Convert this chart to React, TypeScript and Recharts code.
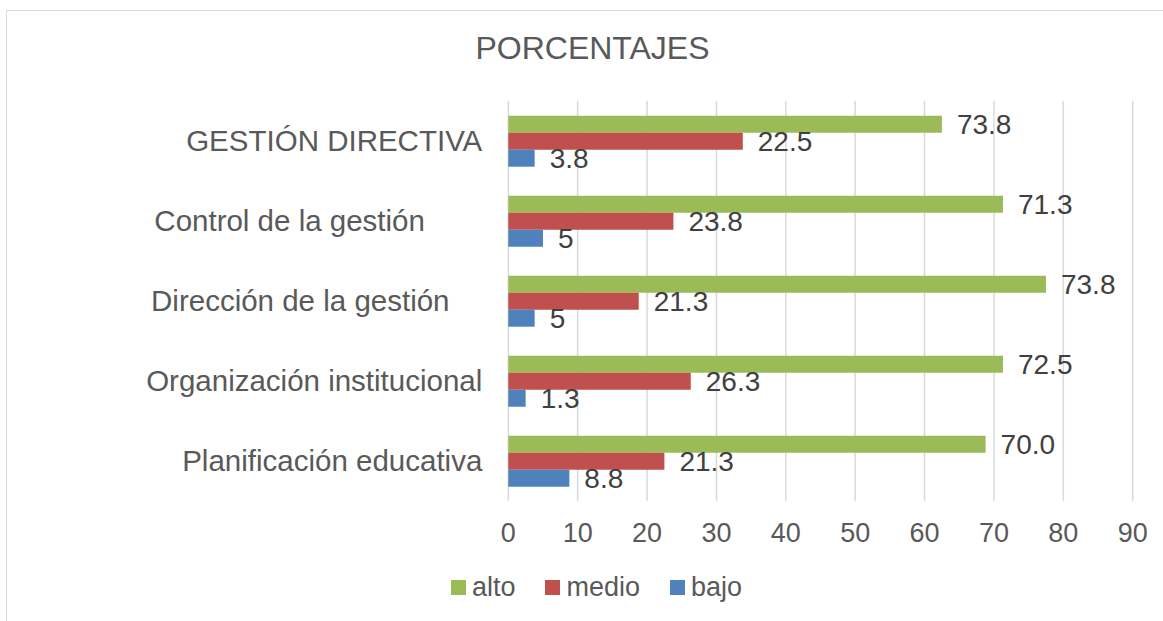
import { BarChart, Bar, XAxis, YAxis, CartesianGrid, Legend, LabelList } from 'recharts';

const categories = [
  'GESTIÓN DIRECTIVA',
  'Control de la gestión\u00A0\u00A0\u00A0\u00A0\u00A0\u00A0\u00A0',
  'Dirección de la gestión\u00A0\u00A0\u00A0\u00A0',
  'Organización institucional',
  'Planificación educativa',
];

const seriesNames = ['alto', 'medio', 'bajo'];

// bar lengths as drawn in the picture
const alto = [62.5, 71.3, 77.5, 71.3, 68.8];
const medio = [33.8, 23.8, 18.8, 26.3, 22.5];
const bajo = [3.8, 5, 3.8, 2.5, 8.8];

// data labels as printed next to the bars
const altoLabels = ['73.8', '71.3', '73.8', '72.5', '70.0'];
const medioLabels = ['22.5', '23.8', '21.3', '26.3', '21.3'];
const bajoLabels = ['3.8', '5', '5', '1.3', '8.8'];

const xTicks = [0, 10, 20, 30, 40, 50, 60, 70, 80, 90];

const data = categories.map((name, i) => ({
  name,
  alto: alto[i],
  medio: medio[i],
  bajo: bajo[i],
  altoLabel: altoLabels[i],
  medioLabel: medioLabels[i],
  bajoLabel: bajoLabels[i],
}));

const FONT = '"Liberation Sans", Arial, sans-serif';
const labelStyle = { fontSize: 28, fill: '#404040', fontFamily: FONT };

// eslint-disable-next-line @typescript-eslint/no-explicit-any
function LegendContent({ payload }: any) {
  const items = [...(payload || [])].sort(
    (a: { value: string }, b: { value: string }) => seriesNames.indexOf(a.value) - seriesNames.indexOf(b.value),
  );
  return (
    <div style={{ display: 'flex', justifyContent: 'center', fontFamily: FONT }}>
      {items.map((p: { value: string; color: string }, i: number) => (
        <div key={p.value} style={{ display: 'flex', alignItems: 'center', marginRight: i < items.length - 1 ? 30 : 0 }}>
          <span style={{ width: 15, height: 15, background: p.color, marginRight: 6, display: 'inline-block' }} />
          <span style={{ fontSize: 27, lineHeight: '27px', color: '#595959' }}>{p.value}</span>
        </div>
      ))}
    </div>
  );
}

export default function App() {
  return (
    <div style={{ position: 'absolute', left: 0, top: 0, width: 1163, height: 621, overflow: 'hidden', background: '#fff' }}>
      <div style={{ position: 'absolute', left: 6, top: 10, width: 1200, height: 700, border: '1.5px solid #d9d9d9' }} />
      <div
        style={{
          position: 'absolute',
          left: 0,
          top: 33,
          width: 1185,
          textAlign: 'center',
          fontFamily: FONT,
          fontSize: 32,
          lineHeight: '31px',
          color: '#595959',
        }}
      >
        PORCENTAJES
      </div>
      <div style={{ position: 'absolute', left: 0, top: 0 }}>
        <BarChart
          width={1163}
          height={621}
          data={data}
          layout="vertical"
          margin={{ top: 100.7, right: 30.3, bottom: 80.3, left: 8.3 }}
          barGap={0}
          barCategoryGap="18.75%"
        >
          <CartesianGrid horizontal={false} stroke="#d9d9d9" strokeWidth={1.5} />
          <XAxis
            type="number"
            domain={[0, 90]}
            ticks={xTicks}
            height={40}
            axisLine={false}
            tickLine={false}
            tickSize={0}
            tickMargin={22}
            tick={{ fontSize: 27, fill: '#595959', fontFamily: FONT }}
          />
          <YAxis
            type="category"
            dataKey="name"
            width={500}
            axisLine={false}
            tickLine={false}
            tickSize={0}
            tickMargin={26}
            tick={{ fontSize: 29.5, fill: '#595959', fontFamily: FONT }}
          />
          <Legend
            layout="horizontal"
            verticalAlign="middle"
            align="center"
            content={<LegendContent />}
            wrapperStyle={{ left: 0, top: 574, width: 1193, height: 30 }}
          />
          <Bar dataKey="alto" name="alto" fill="#9BBB59" isAnimationActive={false}>
            <LabelList dataKey="altoLabel" position="right" offset={15} style={labelStyle} />
          </Bar>
          <Bar dataKey="medio" name="medio" fill="#C0504D" isAnimationActive={false}>
            <LabelList dataKey="medioLabel" position="right" offset={15} style={labelStyle} />
          </Bar>
          <Bar dataKey="bajo" name="bajo" fill="#4F81BD" isAnimationActive={false}>
            <LabelList dataKey="bajoLabel" position="right" offset={15} style={labelStyle} />
          </Bar>
        </BarChart>
      </div>
    </div>
  );
}
